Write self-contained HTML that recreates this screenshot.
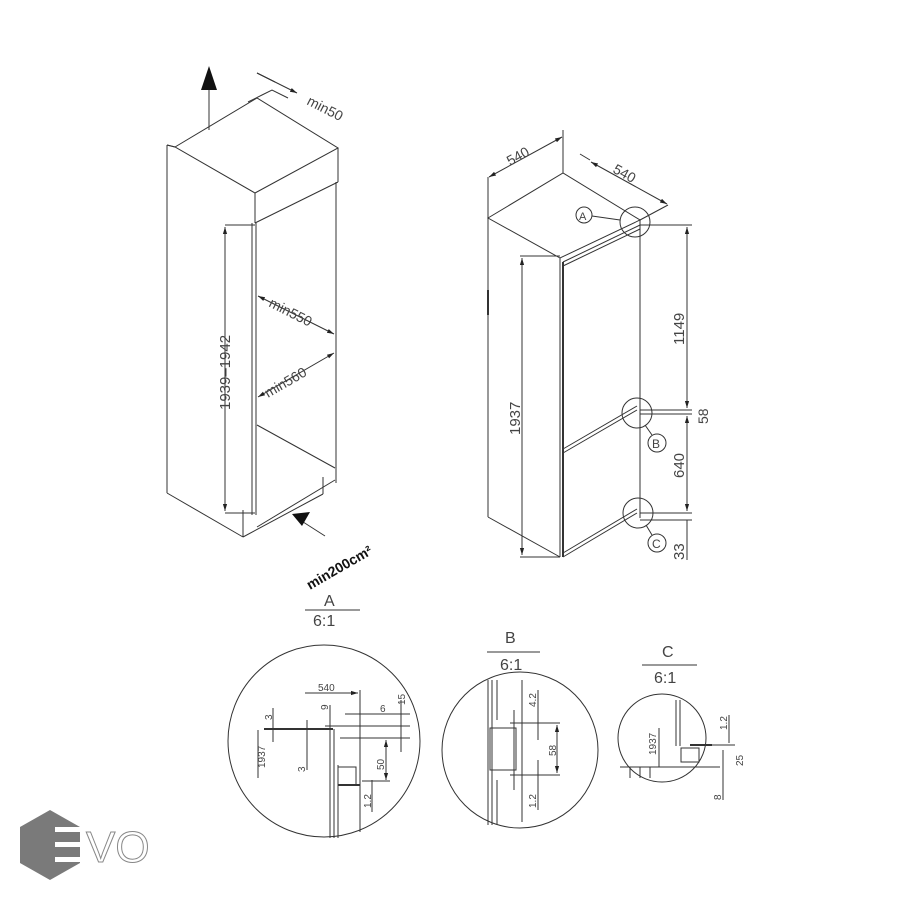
<!DOCTYPE html>
<html><head><meta charset="utf-8"><style>
html,body{margin:0;padding:0;background:#fff}
svg{display:block}
text{font-family:"Liberation Sans",sans-serif;fill:#444}
</style></head><body>
<svg width="900" height="900" viewBox="0 0 900 900" xmlns="http://www.w3.org/2000/svg">
<defs>
<marker id="ar" viewBox="0 0 10 10" refX="10" refY="5" markerWidth="7" markerHeight="7" orient="auto-start-reverse"><path d="M0,2 L10,5 L0,8z" fill="#222"/></marker>
</defs>
<g stroke="#333" stroke-width="1" fill="none">
<line x1="209" y1="130" x2="209" y2="88"/>
<path d="M201,90 L209,66 L217,90z" fill="#111" stroke="none"/>
<polygon points="167,145 175,147 257,98 338,148 255,193 175,147" fill="none"/>
<path d="M167,145 L175,147"/>
<path d="M248,102 L262,95 L272,90 L288,98"/>
<line x1="257" y1="73" x2="297" y2="93" marker-end="url(#ar)"/>
<line x1="275" y1="82" x2="257" y2="73"/>
<line x1="255" y1="193" x2="255" y2="223"/>
<line x1="338" y1="148" x2="338" y2="182"/>
<line x1="255" y1="223" x2="338" y2="182"/>
<line x1="167" y1="145" x2="167" y2="493"/>
<line x1="167" y1="493" x2="243" y2="537"/>
<line x1="243" y1="537" x2="243" y2="510"/>
<line x1="252" y1="223" x2="252" y2="515"/>
<line x1="256" y1="223" x2="256" y2="515"/>
<line x1="336" y1="182" x2="336" y2="483"/>
<line x1="225" y1="225" x2="255" y2="225"/>
<line x1="225" y1="513" x2="255" y2="513"/>
<line x1="225" y1="227" x2="225" y2="511" marker-start="url(#ar)" marker-end="url(#ar)"/>
<line x1="258" y1="296" x2="334" y2="334" marker-start="url(#ar)" marker-end="url(#ar)"/>
<line x1="258" y1="397" x2="334" y2="353" marker-start="url(#ar)" marker-end="url(#ar)"/>
<line x1="257" y1="425" x2="335" y2="468"/>
<line x1="257" y1="527" x2="335" y2="480"/>
<line x1="243" y1="537" x2="323" y2="494"/>
<line x1="323" y1="477" x2="323" y2="494"/>
<line x1="325" y1="536" x2="300" y2="520"/>
<path d="M292,514 L310,512 L302,526z" fill="#111" stroke="none"/>
<polygon points="488,218 563,173 640,220 560,258"/>
<line x1="488" y1="218" x2="488" y2="517"/>
<line x1="488" y1="517" x2="560" y2="557"/>
<line x1="560" y1="258" x2="560" y2="557"/>
<line x1="640" y1="220" x2="640" y2="518"/>
<line x1="563" y1="262" x2="640" y2="225"/>
<line x1="563" y1="266" x2="640" y2="229"/>
<line x1="563" y1="262" x2="563" y2="557" stroke-width="2"/>
<line x1="563" y1="557" x2="637" y2="513"/>
<line x1="563" y1="553" x2="637" y2="509"/>
<line x1="563" y1="453" x2="637" y2="410"/>
<line x1="563" y1="449" x2="637" y2="406"/>
<line x1="488" y1="177" x2="488" y2="218"/>
<line x1="563" y1="130" x2="563" y2="173"/>
<line x1="489" y1="177" x2="562" y2="137" marker-start="url(#ar)" marker-end="url(#ar)"/>
<line x1="591" y1="162" x2="667" y2="204" marker-start="url(#ar)" marker-end="url(#ar)"/>
<line x1="590" y1="160" x2="580" y2="154"/>
<line x1="668" y1="205" x2="640" y2="220"/>
<circle cx="635" cy="222" r="15"/>
<circle cx="584" cy="215" r="8"/>
<line x1="592" y1="216" x2="620" y2="220"/>
<line x1="640" y1="225" x2="692" y2="225"/>
<line x1="687" y1="227" x2="687" y2="408" marker-start="url(#ar)" marker-end="url(#ar)"/>
<line x1="640" y1="410" x2="692" y2="410"/>
<line x1="640" y1="414" x2="692" y2="414"/>
<line x1="687" y1="416" x2="687" y2="511" marker-start="url(#ar)" marker-end="url(#ar)"/>
<line x1="640" y1="513" x2="692" y2="513"/>
<line x1="640" y1="520" x2="692" y2="520"/>
<line x1="687" y1="520" x2="687" y2="560"/>
<circle cx="637" cy="413" r="15"/>
<circle cx="657" cy="443" r="9"/>
<line x1="645" y1="425" x2="652" y2="435"/>
<circle cx="638" cy="513" r="15"/>
<circle cx="657" cy="543" r="9"/>
<line x1="646" y1="525" x2="652" y2="535"/>
<line x1="520" y1="256" x2="560" y2="256"/>
<line x1="520" y1="557" x2="560" y2="557"/>
<line x1="522" y1="258" x2="522" y2="555" marker-start="url(#ar)" marker-end="url(#ar)"/>
<line x1="488" y1="290" x2="488" y2="315" stroke-width="2"/>
<line x1="305" y1="610" x2="360" y2="610"/>
<circle cx="324" cy="741" r="96"/>
<line x1="264" y1="729" x2="333" y2="729" stroke-width="2"/>
<line x1="330" y1="729" x2="330" y2="838"/>
<line x1="334" y1="729" x2="334" y2="838"/>
<line x1="338" y1="765" x2="338" y2="838"/>
<rect x="338" y="767" width="18" height="18"/>
<line x1="338" y1="785" x2="360" y2="785" stroke-width="2"/>
<line x1="360" y1="690" x2="360" y2="832"/>
<line x1="305" y1="693" x2="358" y2="693" marker-end="url(#ar)"/>
<line x1="345" y1="714" x2="410" y2="714"/>
<line x1="325" y1="726" x2="410" y2="726"/>
<line x1="340" y1="738" x2="410" y2="738"/>
<line x1="362" y1="781" x2="390" y2="781"/>
<line x1="386" y1="740" x2="386" y2="780" marker-start="url(#ar)" marker-end="url(#ar)"/>
<line x1="401" y1="700" x2="401" y2="752"/>
<line x1="372" y1="780" x2="372" y2="812"/>
<line x1="330" y1="705" x2="330" y2="740"/>
<line x1="273" y1="708" x2="273" y2="742"/>
<line x1="307" y1="720" x2="307" y2="770"/>
<line x1="258" y1="730" x2="258" y2="778"/>
<line x1="487" y1="652" x2="540" y2="652"/>
<circle cx="520" cy="750" r="78"/>
<line x1="488" y1="680" x2="488" y2="825"/>
<line x1="492" y1="680" x2="492" y2="825"/>
<line x1="497" y1="680" x2="497" y2="720"/>
<line x1="497" y1="780" x2="497" y2="825"/>
<line x1="522" y1="680" x2="522" y2="822"/>
<rect x="490" y="728" width="26" height="42"/>
<line x1="510" y1="723" x2="560" y2="723"/>
<line x1="510" y1="775" x2="560" y2="775"/>
<line x1="514" y1="710" x2="514" y2="790"/>
<line x1="557" y1="725" x2="557" y2="773" marker-start="url(#ar)" marker-end="url(#ar)"/>
<line x1="538" y1="690" x2="538" y2="740"/>
<line x1="538" y1="760" x2="538" y2="810"/>
<line x1="642" y1="665" x2="697" y2="665"/>
<circle cx="662" cy="738" r="44"/>
<line x1="676" y1="700" x2="676" y2="746"/>
<line x1="680" y1="700" x2="680" y2="746"/>
<line x1="620" y1="767" x2="720" y2="767"/>
<rect x="681" y="748" width="18" height="14"/>
<line x1="690" y1="745" x2="712" y2="745" stroke-width="2"/>
<line x1="712" y1="745" x2="735" y2="745"/>
<line x1="729" y1="715" x2="729" y2="743"/>
<line x1="723" y1="750" x2="723" y2="800"/>
<line x1="659" y1="728" x2="659" y2="767"/>
<line x1="630" y1="767" x2="630" y2="778"/>
<line x1="640" y1="767" x2="640" y2="778"/>
<line x1="650" y1="767" x2="650" y2="778"/>
</g>
<text transform="translate(306,104) rotate(27)" font-size="14">min50</text>
<text transform="translate(230,410) rotate(-90)" font-size="15">1939–1942</text>
<text transform="translate(268,306) rotate(27)" font-size="14">min550</text>
<text transform="translate(268,398) rotate(-30)" font-size="14">min560</text>
<text transform="translate(310,590) rotate(-30)" font-size="14" font-weight="bold" style="fill:#111">min200cm²</text>
<text transform="translate(510,166) rotate(-29)" font-size="14">540</text>
<text transform="translate(612,172) rotate(29)" font-size="14">540</text>
<text x="579" y="220" font-size="11">A</text>
<text transform="translate(684,345) rotate(-90)" font-size="15">1149</text>
<text transform="translate(708,424) rotate(-90)" font-size="14">58</text>
<text transform="translate(684,478) rotate(-90)" font-size="15">640</text>
<text transform="translate(684,560) rotate(-90)" font-size="15">33</text>
<text x="652" y="448" font-size="12">B</text>
<text x="652" y="548" font-size="12">C</text>
<text transform="translate(520,435) rotate(-90)" font-size="15">1937</text>
<text x="324" y="606" font-size="16">A</text>
<text x="313" y="626" font-size="16">6:1</text>
<text x="318" y="691" font-size="10">540</text>
<text transform="translate(272,720) rotate(-90)" font-size="10">3</text>
<text transform="translate(328,710) rotate(-90)" font-size="10">9</text>
<text x="380" y="712" font-size="10">6</text>
<text transform="translate(405,705) rotate(-90)" font-size="10">15</text>
<text transform="translate(265,768) rotate(-90)" font-size="10">1937</text>
<text transform="translate(305,772) rotate(-90)" font-size="10">3</text>
<text transform="translate(384,770) rotate(-90)" font-size="10">50</text>
<text transform="translate(371,808) rotate(-90)" font-size="10">1.2</text>
<text x="505" y="643" font-size="16">B</text>
<text x="500" y="670" font-size="16">6:1</text>
<text transform="translate(536,707) rotate(-90)" font-size="10">4.2</text>
<text transform="translate(556,756) rotate(-90)" font-size="10">58</text>
<text transform="translate(536,808) rotate(-90)" font-size="10">1.2</text>
<text x="662" y="657" font-size="16">C</text>
<text x="654" y="683" font-size="16">6:1</text>
<text transform="translate(656,755) rotate(-90)" font-size="10">1937</text>
<text transform="translate(727,730) rotate(-90)" font-size="10">1.2</text>
<text transform="translate(743,766) rotate(-90)" font-size="10">25</text>
<text transform="translate(721,800) rotate(-90)" font-size="10">8</text>
<polygon points="50,810 80,827 80,863 50,880 20,863 20,827" fill="#7a7a7a"/>
<rect x="55" y="827" width="26" height="5" fill="#fff"/>
<rect x="55" y="842" width="26" height="5" fill="#fff"/>
<rect x="55" y="857" width="26" height="5" fill="#fff"/>
<text x="86" y="862" font-size="44" style="fill:#fff;stroke:#888;stroke-width:1">VO</text>
</svg>
</body></html>
